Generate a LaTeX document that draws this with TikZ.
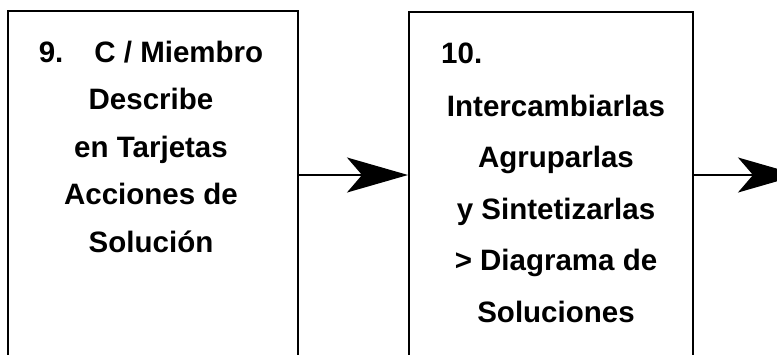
\documentclass[tikz,border=0pt]{standalone}
\usepackage{fontspec}
\setmainfont{Liberation Sans}
\usepackage{tikz}
\usetikzlibrary{arrows.meta}

\tikzset{
  stepbox/.style = {draw, line width = 2pt, rectangle, anchor = north west,
                    minimum height = 400pt, inner sep = 0pt},
  steptext/.style = {align = center, anchor = base, inner sep = 0pt,
                     font = \fontsize{29.5}{47.5}\selectfont\bfseries},
  flow/.style = {line width = 1.8pt,
                 -{Stealth[length = 61pt, width = 35pt, inset = 15pt]}}
}

\begin{document}
\begin{tikzpicture}[x = 1pt, y = -1pt]
      \useasboundingbox (0, 0) rectangle (777, 354);
      \clip (0, 0) rectangle (777, 354);
      % boxes run past the lower edge
      \node [stepbox, minimum width = 290pt] (box9) at (7, 10) {};
      \node [stepbox, minimum width = 284pt] (box10) at (408, 11) {};
      % step 9 (base is the last line)
      \node [steptext] (txt9) at (151, 252)
        {9.\hspace*{31pt}C / Miembro\\ Describe\\ en Tarjetas\\
         Acciones de\\ Solución};
      % step 10
      \node [steptext, anchor = base west] (num10) at (441, 63) {10.};
      \node [steptext, font = \fontsize{29.5}{51.5}\selectfont\bfseries]
        (txt10) at (556, 322)
        {Intercambiarlas\\ Agruparlas\\ y Sintetizarlas\\
         > Diagrama de\\ Soluciones};
      % connectors
      \coordinate (mid) at (0, 175);
      \coordinate (out) at (799, 175);
      \draw [flow] (box9.east |- mid) -- (box10.west |- mid);
      \draw [flow] (box10.east |- mid) -- (out);
    \end{tikzpicture}
\end{document}
